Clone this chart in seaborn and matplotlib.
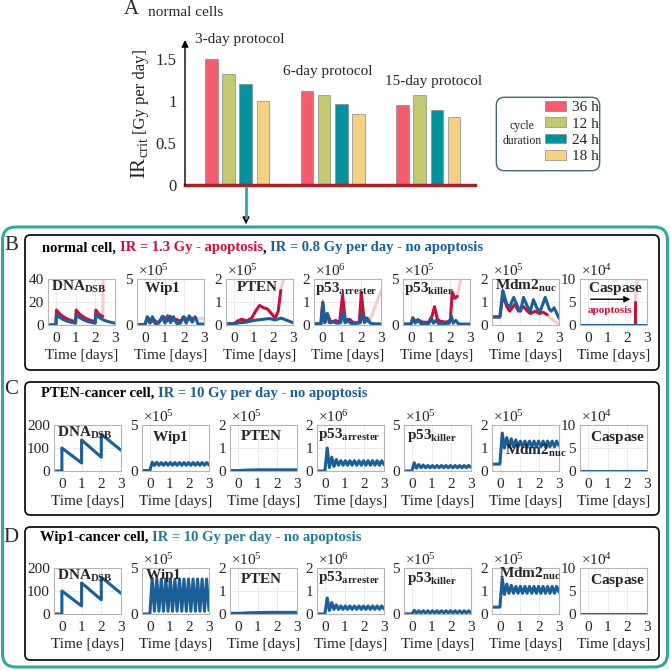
import numpy as np
import pandas as pd
import matplotlib
matplotlib.use("Agg")
import matplotlib.pyplot as plt
import seaborn as sns
from matplotlib.patches import FancyBboxPatch, FancyArrowPatch
from matplotlib.lines import Line2D

# ---- panel A: critical dose IR_crit (Gy per day) ----
protocols = ["3-day protocol", "6-day protocol", "15-day protocol"]
cycle_durations = ["36 h", "12 h", "24 h", "18 h"]
ir_crit_36h = [1.50, 1.11, 0.95]
ir_crit_12h = [1.32, 1.07, 1.07]
ir_crit_24h = [1.20, 0.96, 0.89]
ir_crit_18h = [1.00, 0.84, 0.81]
bar_colors = ["#f45d6b", "#c3c96e", "#00939b", "#f6d083"]

# ---- panel B: normal cell, time in days ----
b_dna_t_red = [-0.4, 0.0, 0.03, 0.2, 0.4, 0.6, 0.8, 1.0, 1.03, 1.2, 1.4, 1.6, 1.8, 2.0, 2.03, 2.15, 2.3, 2.38]
b_dna_red = [0, 0, 13, 9.5, 7, 5, 3.8, 3, 13, 9.5, 7, 5, 3.8, 3, 13, 10, 8, 7.5]
b_dna_t_pink = [2.38, 2.41, 3.0]
b_dna_pink = [7.5, 60, 60]
b_dna_t_blue = [-0.4, 0.0, 0.03, 0.2, 0.4, 0.6, 0.8, 1.0, 1.03, 1.2, 1.4, 1.6, 1.8, 2.0, 2.03, 2.2, 2.4, 2.6, 2.8, 3.0]
b_dna_blue = [0, 0, 9, 6.5, 4.5, 3.2, 2.3, 1.6, 9, 6.5, 4.5, 3.2, 2.3, 1.6, 9, 6.5, 4.5, 3.2, 2.3, 1.6]

b_wip1_t_red = [-0.4, 0.0, 0.15, 0.3, 0.45, 0.62, 0.8, 0.95, 1.1, 1.28, 1.45, 1.62, 1.8, 2.0, 2.15, 2.3, 2.4]
b_wip1_red = [0.05, 0.05, 0.8, 0.3, 0.6, 0.25, 0.5, 0.9, 0.4, 0.95, 0.5, 0.6, 0.4, 0.85, 0.5, 0.7, 0.75]
b_wip1_t_pink = [2.4, 3.0]
b_wip1_pink = [0.75, 0.75]
b_wip1_t_blue = [-0.4, 0.0, 0.12, 0.25, 0.38, 0.52, 0.7, 0.88, 1.02, 1.15, 1.3, 1.45, 1.62, 1.8, 1.95, 2.1, 2.25, 2.4, 2.55, 2.7, 3.0]
b_wip1_blue = [0.05, 0.05, 0.9, 0.2, 0.9, 0.15, 0.2, 0.95, 0.2, 1.0, 0.25, 0.9, 0.15, 0.2, 0.9, 0.2, 1.0, 0.3, 0.9, 0.1, 0.1]

b_pten_t_red = [-0.4, 0.0, 0.2, 0.4, 0.65, 0.9, 1.1, 1.3, 1.5, 1.7, 1.9, 2.1, 2.25, 2.38]
b_pten_red = [0.05, 0.05, 0.18, 0.25, 0.18, 0.3, 0.6, 0.85, 0.75, 0.7, 0.5, 0.3, 0.6, 1.5]
b_pten_t_pink = [2.38, 2.55, 3.0]
b_pten_pink = [1.5, 2.1, 3.0]
b_pten_t_blue = [-0.4, 0.0, 0.3, 0.6, 0.9, 1.2, 1.5, 1.8, 2.1, 2.4, 2.7, 3.0]
b_pten_blue = [0.05, 0.05, 0.1, 0.12, 0.18, 0.22, 0.25, 0.28, 0.22, 0.3, 0.2, 0.1]

b_arr_t_red = [-0.4, -0.05, 0.04, 0.15, 0.3, 0.45, 0.7, 0.9, 1.05, 1.2, 1.4, 1.6, 1.9, 2.0, 2.12, 2.25, 2.4]
b_arr_red = [0.05, 0.05, 0.95, 0.1, 0.45, 0.1, 0.2, 0.1, 1.3, 0.1, 0.25, 0.1, 0.1, 1.4, 0.4, 0.2, 0.15]
b_arr_t_pink = [2.4, 2.7, 3.0]
b_arr_pink = [0.15, 0.8, 1.5]
b_arr_t_blue = [-0.4, -0.05, 0.05, 0.15, 0.27, 0.38, 0.55, 0.75, 0.95, 1.07, 1.17, 1.3, 1.45, 1.65, 1.95, 2.06, 2.16, 2.3, 2.45, 2.65, 3.0]
b_arr_blue = [0.05, 0.05, 1.0, 0.1, 0.5, 0.1, 0.15, 0.08, 0.1, 0.55, 0.1, 0.25, 0.08, 0.05, 0.1, 0.55, 0.1, 0.3, 0.08, 0.05, 0.05]

b_kil_t_red = [-0.4, 0.0, 0.1, 0.25, 0.42, 0.6, 0.9, 1.08, 1.2, 1.35, 1.5, 1.8, 2.0, 2.1, 2.22, 2.35]
b_kil_red = [0.1, 0.1, 0.8, 0.3, 0.5, 0.3, 0.3, 1.0, 2.0, 0.6, 0.4, 0.3, 0.5, 3.6, 2.9, 3.1]
b_kil_t_pink = [2.35, 2.55, 3.0]
b_kil_pink = [3.1, 5.2, 6.0]
b_kil_t_blue = [-0.4, 0.0, 0.1, 0.22, 0.35, 0.5, 0.9, 1.05, 1.15, 1.28, 1.4, 1.6, 1.95, 2.05, 2.15, 2.28, 2.42, 3.0]
b_kil_blue = [0.1, 0.1, 0.7, 0.2, 0.6, 0.15, 0.15, 0.7, 0.2, 0.5, 0.15, 0.1, 0.2, 1.0, 0.2, 0.5, 0.1, 0.1]

b_mdm_t_red = [-0.4, 0.0, 0.15, 0.35, 0.5, 0.75, 0.95, 1.2, 1.4, 1.55, 1.8, 2.0, 2.2, 2.4]
b_mdm_red = [0.35, 0.35, 1.3, 0.8, 0.6, 0.9, 0.6, 0.8, 0.6, 0.5, 0.6, 0.5, 0.55, 0.45]
b_mdm_t_pink = [2.4, 2.7, 3.0]
b_mdm_pink = [0.45, 0.2, 0.05]
b_mdm_t_blue = [-0.4, 0.0, 0.15, 0.35, 0.5, 0.7, 0.9, 1.05, 1.2, 1.4, 1.55, 1.7, 1.9, 2.05, 2.3, 2.5, 2.6, 2.75, 3.0]
b_mdm_blue = [0.35, 0.35, 1.5, 0.9, 0.8, 1.2, 0.8, 0.6, 1.2, 0.8, 0.6, 1.1, 0.7, 0.6, 1.2, 0.7, 0.6, 0.75, 0.3]

b_casp_t_red = [-0.4, 2.4, 2.4]
b_casp_red = [0, 0, 5]
b_casp_t_pink = [2.4, 2.5, 3.0]
b_casp_pink = [5, 10, 10]
b_casp_t_blue = [-0.4, 3.0]
b_casp_blue = [0, 0]

# ---- panels C and D: cancer cells, 10 Gy per day ----
dna_t = [-0.4, 0.0, 0.0, 1.0, 1.0, 2.0, 2.0, 3.0]
c_dna = [0, 0, 100, 35, 135, 60, 160, 90]
d_dna = [0, 0, 100, 35, 135, 62, 160, 90]

pten_t = [-0.4, 0.0, 0.5, 1.0, 1.5, 2.0, 2.5, 3.0]
c_pten = [0.02, 0.02, 0.04, 0.05, 0.05, 0.05, 0.05, 0.05]
d_pten = [0.03, 0.03, 0.05, 0.06, 0.07, 0.07, 0.07, 0.07]

casp_t = [-0.4, 3.0]
c_casp = [0, 0]
d_casp = [0, 0]

osc_t = [-0.4, 0.0, 0.12, 0.23, 0.35, 0.46, 0.58, 0.69, 0.81, 0.92, 1.04, 1.15, 1.27, 1.38,
         1.5, 1.62, 1.73, 1.85, 1.96, 2.08, 2.19, 2.31, 2.42, 2.54, 2.65, 2.77, 2.88, 3.0]
c_wip1 = [0.05, 0.05, 0.95, 0.6, 0.95, 0.62, 0.92, 0.62, 0.92, 0.62, 0.92, 0.62, 0.92, 0.62,
          0.92, 0.62, 0.92, 0.62, 0.92, 0.62, 0.92, 0.62, 0.92, 0.62, 0.92, 0.62, 0.92, 0.65]
c_arr = [0.0, 0.0, 1.0, 0.15, 0.6, 0.2, 0.5, 0.25, 0.45, 0.25, 0.45, 0.25, 0.45, 0.25,
         0.45, 0.25, 0.45, 0.25, 0.45, 0.25, 0.45, 0.25, 0.45, 0.25, 0.45, 0.25, 0.45, 0.28]
c_kil = [0.0, 0.0, 0.9, 0.3, 0.7, 0.35, 0.65, 0.35, 0.6, 0.35, 0.6, 0.35, 0.6, 0.35,
         0.6, 0.35, 0.6, 0.35, 0.6, 0.35, 0.6, 0.35, 0.6, 0.35, 0.6, 0.35, 0.6, 0.4]
c_mdm = [0.3, 0.3, 1.65, 1.0, 1.45, 1.05, 1.4, 1.05, 1.35, 1.05, 1.3, 1.05, 1.3, 1.05,
         1.3, 1.05, 1.3, 1.05, 1.3, 1.05, 1.3, 1.05, 1.3, 1.05, 1.3, 1.05, 1.3, 1.1]
d_wip1 = [0.0, 0.0, 3.9, 0.3, 3.8, 0.3, 3.8, 0.3, 3.8, 0.3, 3.8, 0.3, 3.8, 0.3,
          3.8, 0.3, 3.8, 0.3, 3.8, 0.3, 3.8, 0.3, 3.8, 0.3, 3.8, 0.3, 3.8, 0.4]
d_arr = [0.0, 0.0, 0.7, 0.15, 0.5, 0.2, 0.4, 0.2, 0.35, 0.2, 0.35, 0.2, 0.35, 0.2,
         0.35, 0.2, 0.35, 0.2, 0.35, 0.2, 0.35, 0.2, 0.35, 0.2, 0.35, 0.2, 0.35, 0.22]
d_kil = [0.0, 0.0, 0.4, 0.1, 0.35, 0.1, 0.35, 0.1, 0.35, 0.1, 0.35, 0.1, 0.35, 0.1,
         0.35, 0.1, 0.35, 0.1, 0.35, 0.1, 0.35, 0.1, 0.35, 0.1, 0.35, 0.1, 0.35, 0.12]
d_mdm = [0.3, 0.3, 1.55, 0.85, 1.3, 0.9, 1.25, 0.9, 1.2, 0.9, 1.2, 0.9, 1.2, 0.9,
         1.2, 0.9, 1.2, 0.9, 1.2, 0.9, 1.2, 0.9, 1.2, 0.9, 1.2, 0.9, 1.2, 0.95]

species = [r"$\mathbf{DNA}_{\mathbf{DSB}}$", r"$\mathbf{Wip1}$", r"$\mathbf{PTEN}$",
           r"$\mathbf{p53}_{\mathbf{arrester}}$", r"$\mathbf{p53}_{\mathbf{killer}}$",
           r"$\mathbf{Mdm2}_{\mathbf{nuc}}$", r"$\mathbf{Caspase}$"]
exponents = [None, 5, 5, 6, 5, 5, 4]
yticks_b = [[0, 20, 40], [0, 5], [0, 1, 2], [0, 1, 2], [0, 5], [0, 1, 2], [0, 5, 10]]
yticks_cd = [[0, 100, 200], [0, 5], [0, 1, 2], [0, 1, 2], [0, 5], [0, 1, 2], [0, 5, 10]]

RED = "#c8103c"
BLUE = "#1c5f96"
PINK = "#fbc8cb"
TEAL_TXT = "#27799a"
TEAL_BOX = "#35a6a0"

sns.set_style("white")
plt.rcParams["font.family"] = "Liberation Serif"
plt.rcParams["mathtext.fontset"] = "custom"
plt.rcParams["mathtext.rm"] = "Liberation Serif"
plt.rcParams["mathtext.bf"] = "Liberation Serif:bold"
plt.rcParams["mathtext.it"] = "Liberation Serif:italic"

W = H = 671
fig = plt.figure(figsize=(6.71, 6.71), dpi=100)


def fx(px):
    return px / W


def fy(py):
    return 1 - py / H


# ---------------- panel A ----------------
axA = fig.add_axes([fx(185), fy(185), fx(475 - 185), (185 - 40) / H])
bars = pd.DataFrame({
    "protocol": protocols * 4,
    "cycle": [c for c in cycle_durations for _ in protocols],
    "ir": ir_crit_36h + ir_crit_12h + ir_crit_24h + ir_crit_18h,
})
sns.barplot(data=bars, x="protocol", y="ir", hue="cycle", hue_order=cycle_durations,
            palette=bar_colors, saturation=1, width=0.72, gap=0.27, edgecolor="#8a8a8a",
            linewidth=0.5, ax=axA)
handles, labels = axA.get_legend_handles_labels()
axA.get_legend().remove()
axA.set_xlim(-0.545, 2.49)
axA.set_ylim(0, 1.72)
axA.set_xticks([])
axA.set_xlabel("")
axA.set_ylabel("")
axA.set_yticks([0, 0.5, 1, 1.5])
axA.set_yticklabels(["0", "0.5", "1", "1.5"])
axA.tick_params(axis="y", direction="inout", length=6, width=1, labelsize=12, pad=3)
for s in ["top", "right", "left"]:
    axA.spines[s].set_visible(False)
axA.spines["bottom"].set_color("#a3232a")
axA.spines["bottom"].set_linewidth(2.5)
axA.annotate("", xy=(0, 1.0), xytext=(0, 0), xycoords="axes fraction",
             arrowprops=dict(arrowstyle="-|>", color="k", lw=1.0, shrinkA=0, shrinkB=0,
                             mutation_scale=10))

fig.text(fx(124), fy(10), "A", fontsize=15, va="center")
fig.text(fx(148), fy(12), "normal cells", fontsize=11, va="center")
fig.text(fx(195), fy(40), protocols[0], fontsize=11, va="center")
fig.text(fx(283), fy(72), protocols[1], fontsize=11, va="center")
fig.text(fx(385), fy(81), protocols[2], fontsize=11, va="center")
fig.text(fx(140), fy(179), r"$\mathrm{IR}_{\mathrm{crit}}$", fontsize=15, rotation=90,
         ha="center", va="bottom")
fig.text(fx(141), fy(134), "[Gy per day]", fontsize=12, rotation=90, ha="center", va="bottom")

# legend box
fig.patches.append(FancyBboxPatch((fx(499), fy(168)), fx(98), (168 - 100) / H,
                                  boxstyle="round,pad=0.004,rounding_size=0.012",
                                  transform=fig.transFigure, fc="white", ec="#3e6872", lw=1.0))
fig.text(fx(522), fy(126), "cycle", fontsize=8.5, ha="center", va="center")
fig.text(fx(522), fy(141), "duration", fontsize=8.5, ha="center", va="center")
fig.legend(handles, labels, loc="upper left", bbox_to_anchor=(fx(545), fy(101)),
           frameon=False, fontsize=11, handlelength=1.4, handleheight=0.6,
           labelspacing=0.2, handletextpad=0.35, borderpad=0, borderaxespad=0)

# connector from panel A into the teal frame
fig.add_artist(Line2D([fx(246), fx(246)], [fy(187), fy(218)], color=TEAL_BOX, lw=2))
fig.add_artist(FancyArrowPatch((fx(246), fy(214)), (fx(246), fy(227)), transform=fig.transFigure,
                               arrowstyle="-|>", mutation_scale=11, color="k", lw=0.8))

# ---------------- frames ----------------
fig.patches.append(FancyBboxPatch((fx(2.5), fy(667)), fx(665), (667 - 227) / H,
                                  boxstyle="round,pad=0,rounding_size=0.02",
                                  transform=fig.transFigure, fc="none", ec=TEAL_BOX, lw=2.2))
for top, bottom in [(235, 370), (382, 515), (527, 660)]:
    fig.patches.append(FancyBboxPatch((fx(25), fy(bottom)), fx(634), (bottom - top) / H,
                                      boxstyle="round,pad=0,rounding_size=0.008",
                                      transform=fig.transFigure, fc="none", ec="k", lw=1.2))
for letter, y in [("B", 245), ("C", 389), ("D", 537)]:
    fig.text(fx(11), fy(y), letter, fontsize=15, ha="center", va="center")


def colored_title(x_px, y_px, parts):
    renderer = fig.canvas.get_renderer()
    x = fx(x_px)
    for s, c in parts:
        t = fig.text(x, fy(y_px), s, color=c, fontsize=10.5, fontweight="bold", va="center")
        bb = t.get_window_extent(renderer)
        x = bb.x1 / fig.bbox.width


colored_title(42, 248, [("normal cell, ", "k"), ("IR = 1.3 Gy - apoptosis", RED), (", ", "k"),
                        ("IR = 0.8 Gy per day - no apoptosis", BLUE)])
colored_title(41, 393, [("PTEN-cancer cell, ", "k"), ("IR = 10 Gy per day - no apoptosis", BLUE)])
colored_title(40, 538, [("Wip1-cancer cell, ", "k"), ("IR = 10 Gy per day - no apoptosis", TEAL_TXT)])


def line(ax, t, v, color):
    sns.lineplot(x=t, y=v, ax=ax, color=color, lw=2.2, estimator=None, sort=False)


def small_axes(left, top, k, ticks, label_xy):
    ax = fig.add_axes([fx(left), fy(top + 46), fx(67), 46 / H])
    ax.set_xlim(-0.4, 3.0)
    ax.set_ylim(0, ticks[-1])
    ax.set_xticks([0, 1, 2, 3])
    ax.set_yticks(ticks)
    ax.grid(True, color="#e6e6e6", lw=0.6)
    ax.set_axisbelow(True)
    for s in ax.spines.values():
        s.set_color("#b5b5b5")
        s.set_linewidth(0.8)
    ax.tick_params(length=0, labelsize=11, pad=3)
    ax.tick_params(axis="x", pad=5)
    ax.set_xlabel("Time [days]", fontsize=11, labelpad=3)
    if exponents[k] is not None:
        ax.text(0.02, 1.0, r"$\times10^{%d}$" % exponents[k], transform=ax.transAxes,
                fontsize=11, ha="left", va="bottom")
    ax.text(label_xy[0], label_xy[1], species[k], transform=ax.transAxes, fontsize=11,
            ha="left", va="top", zorder=5)
    return ax


# ---------------- panel B ----------------
b_lefts = [48, 137, 226, 314, 403, 492, 580]
b_series = [
    (b_dna_t_red, b_dna_red, b_dna_t_pink, b_dna_pink, b_dna_t_blue, b_dna_blue),
    (b_wip1_t_red, b_wip1_red, b_wip1_t_pink, b_wip1_pink, b_wip1_t_blue, b_wip1_blue),
    (b_pten_t_red, b_pten_red, b_pten_t_pink, b_pten_pink, b_pten_t_blue, b_pten_blue),
    (b_arr_t_red, b_arr_red, b_arr_t_pink, b_arr_pink, b_arr_t_blue, b_arr_blue),
    (b_kil_t_red, b_kil_red, b_kil_t_pink, b_kil_pink, b_kil_t_blue, b_kil_blue),
    (b_mdm_t_red, b_mdm_red, b_mdm_t_pink, b_mdm_pink, b_mdm_t_blue, b_mdm_blue),
    (b_casp_t_red, b_casp_red, b_casp_t_pink, b_casp_pink, b_casp_t_blue, b_casp_blue),
]
b_label_xy = [(0.04, 1.0), (0.1, 0.97), (0.15, 0.97), (0.02, 0.97), (0.02, 0.97), (0.04, 1.02), (0.12, 0.97)]
for k in range(7):
    tr, vr, tp, vp, tb, vb = b_series[k]
    ax = small_axes(b_lefts[k], 279, k, yticks_b[k], b_label_xy[k])
    line(ax, tp, vp, PINK)
    line(ax, tr, vr, RED)
    line(ax, tb, vb, BLUE)
    if k == 6:
        ax.annotate("", xy=(2.3, 5.6), xytext=(0.0, 5.6),
                    arrowprops=dict(arrowstyle="-|>", color="k", lw=1.0, mutation_scale=9))
        ax.text(0.0, 3.2, "apoptosis", color=RED, fontsize=8, fontweight="bold", va="center")

# ---------------- panels C and D ----------------
c_series = [(dna_t, c_dna), (osc_t, c_wip1), (pten_t, c_pten), (osc_t, c_arr),
            (osc_t, c_kil), (osc_t, c_mdm), (casp_t, c_casp)]
d_series = [(dna_t, d_dna), (osc_t, d_wip1), (pten_t, d_pten), (osc_t, d_arr),
            (osc_t, d_kil), (osc_t, d_mdm), (casp_t, d_casp)]
cd_lefts = [54, 142, 230, 317, 404, 492, 580]
c_label_xy = [(0.04, 1.0), (0.15, 0.92), (0.15, 0.92), (0.02, 0.97), (0.04, 0.95), (0.2, 0.62), (0.15, 0.92)]
d_label_xy = [(0.04, 1.0), (0.05, 1.02), (0.15, 0.92), (0.02, 0.97), (0.04, 0.95), (0.1, 1.04), (0.15, 0.92)]
for top, series, lab in [(425, c_series, c_label_xy), (568, d_series, d_label_xy)]:
    for k in range(7):
        ax = small_axes(cd_lefts[k], top, k, yticks_cd[k], lab[k])
        line(ax, series[k][0], series[k][1], BLUE)

fig.savefig("out.png", dpi=100)
